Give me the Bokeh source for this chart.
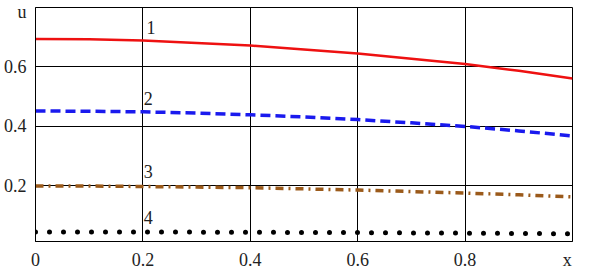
from bokeh.plotting import figure
from bokeh.models import Range1d, FixedTicker, Label, CustomJSTickFormatter
from bokeh.embed import file_html
from bokeh.resources import INLINE

x = [0.0, 0.1, 0.2, 0.3, 0.4, 0.5, 0.6, 0.7, 0.8, 0.9, 1.0]
u1 = [0.694, 0.693, 0.689, 0.681, 0.672, 0.659, 0.645, 0.628, 0.610, 0.587, 0.561]
u2 = [0.452, 0.451, 0.449, 0.445, 0.439, 0.432, 0.423, 0.412, 0.400, 0.385, 0.368]
u3 = [0.200, 0.1995, 0.198, 0.196, 0.194, 0.190, 0.186, 0.181, 0.176, 0.170, 0.163]
u4 = [0.045, 0.045, 0.045, 0.0445, 0.044, 0.0435, 0.043, 0.042, 0.041, 0.040, 0.039]

x_ticks = [0, 0.2, 0.4, 0.6, 0.8, 0.99]
x_tick_labels = ["0", "0.2", "0.4", "0.6", "0.8", "x"]
y_ticks = [0.2, 0.4, 0.6, 0.785]
y_tick_labels = ["0.2", "0.4", "0.6", "u"]
grid_x = [0.2, 0.4, 0.6, 0.8]
grid_y = [0.2, 0.4, 0.6]
curve_names = ["1", "2", "3", "4"]
name_x = [0.215, 0.21, 0.21, 0.21]
name_y = [0.732, 0.494, 0.248, 0.094]

FONT = "Times New Roman"

p = figure(width=579, height=272, output_backend="svg", toolbar_location=None,
           x_range=Range1d(0, 1), y_range=Range1d(0.013, 0.8),
           min_border_left=26, min_border_right=7, min_border_top=7, min_border_bottom=21)
p.outline_line_color = "black"
p.outline_line_width = 1

LOOKUP = """
for (let i = 0; i < tvals.length; i++) {
  if (Math.abs(tvals[i] - tick) < 1e-6) { return tlabels[i]; }
}
return "";
"""

for ax, tk, lb in ((p.xaxis[0], x_ticks, x_tick_labels), (p.yaxis[0], y_ticks, y_tick_labels)):
    ax.ticker = FixedTicker(ticks=tk)
    ax.formatter = CustomJSTickFormatter(args=dict(tvals=tk, tlabels=lb), code=LOOKUP)
    ax.major_tick_line_color = None
    ax.minor_tick_line_color = None
    ax.axis_line_color = "black"
    ax.major_label_text_font = FONT
    ax.major_label_text_font_style = "normal"
    ax.major_label_text_font_size = "18px"
    ax.major_label_text_color = "#222222"

p.xaxis[0].major_label_standoff = 2
p.yaxis[0].major_label_standoff = 3

p.xgrid[0].ticker = FixedTicker(ticks=grid_x)
p.ygrid[0].ticker = FixedTicker(ticks=grid_y)
for g in (p.xgrid[0], p.ygrid[0]):
    g.grid_line_color = "black"
    g.grid_line_width = 1

p.line(x, u1, line_color="#ee1111", line_width=2.5)
p.line(x, u2, line_color="#1a1aee", line_width=3.5, line_dash="10 5")
p.line(x, u3, line_color="#9b5a1a", line_width=3.5, line_dash="8 5 2 5")
p.line(x, u4, line_color="black", line_width=5, line_dash="0 14", line_cap="round")

for t, lx, ly in zip(curve_names, name_x, name_y):
    p.add_layout(Label(x=lx, y=ly, text=t, text_font=FONT, text_font_size="18px",
                       text_color="#222222", text_align="center", text_baseline="middle"))

open("out.html", "w").write(file_html(p, INLINE))
